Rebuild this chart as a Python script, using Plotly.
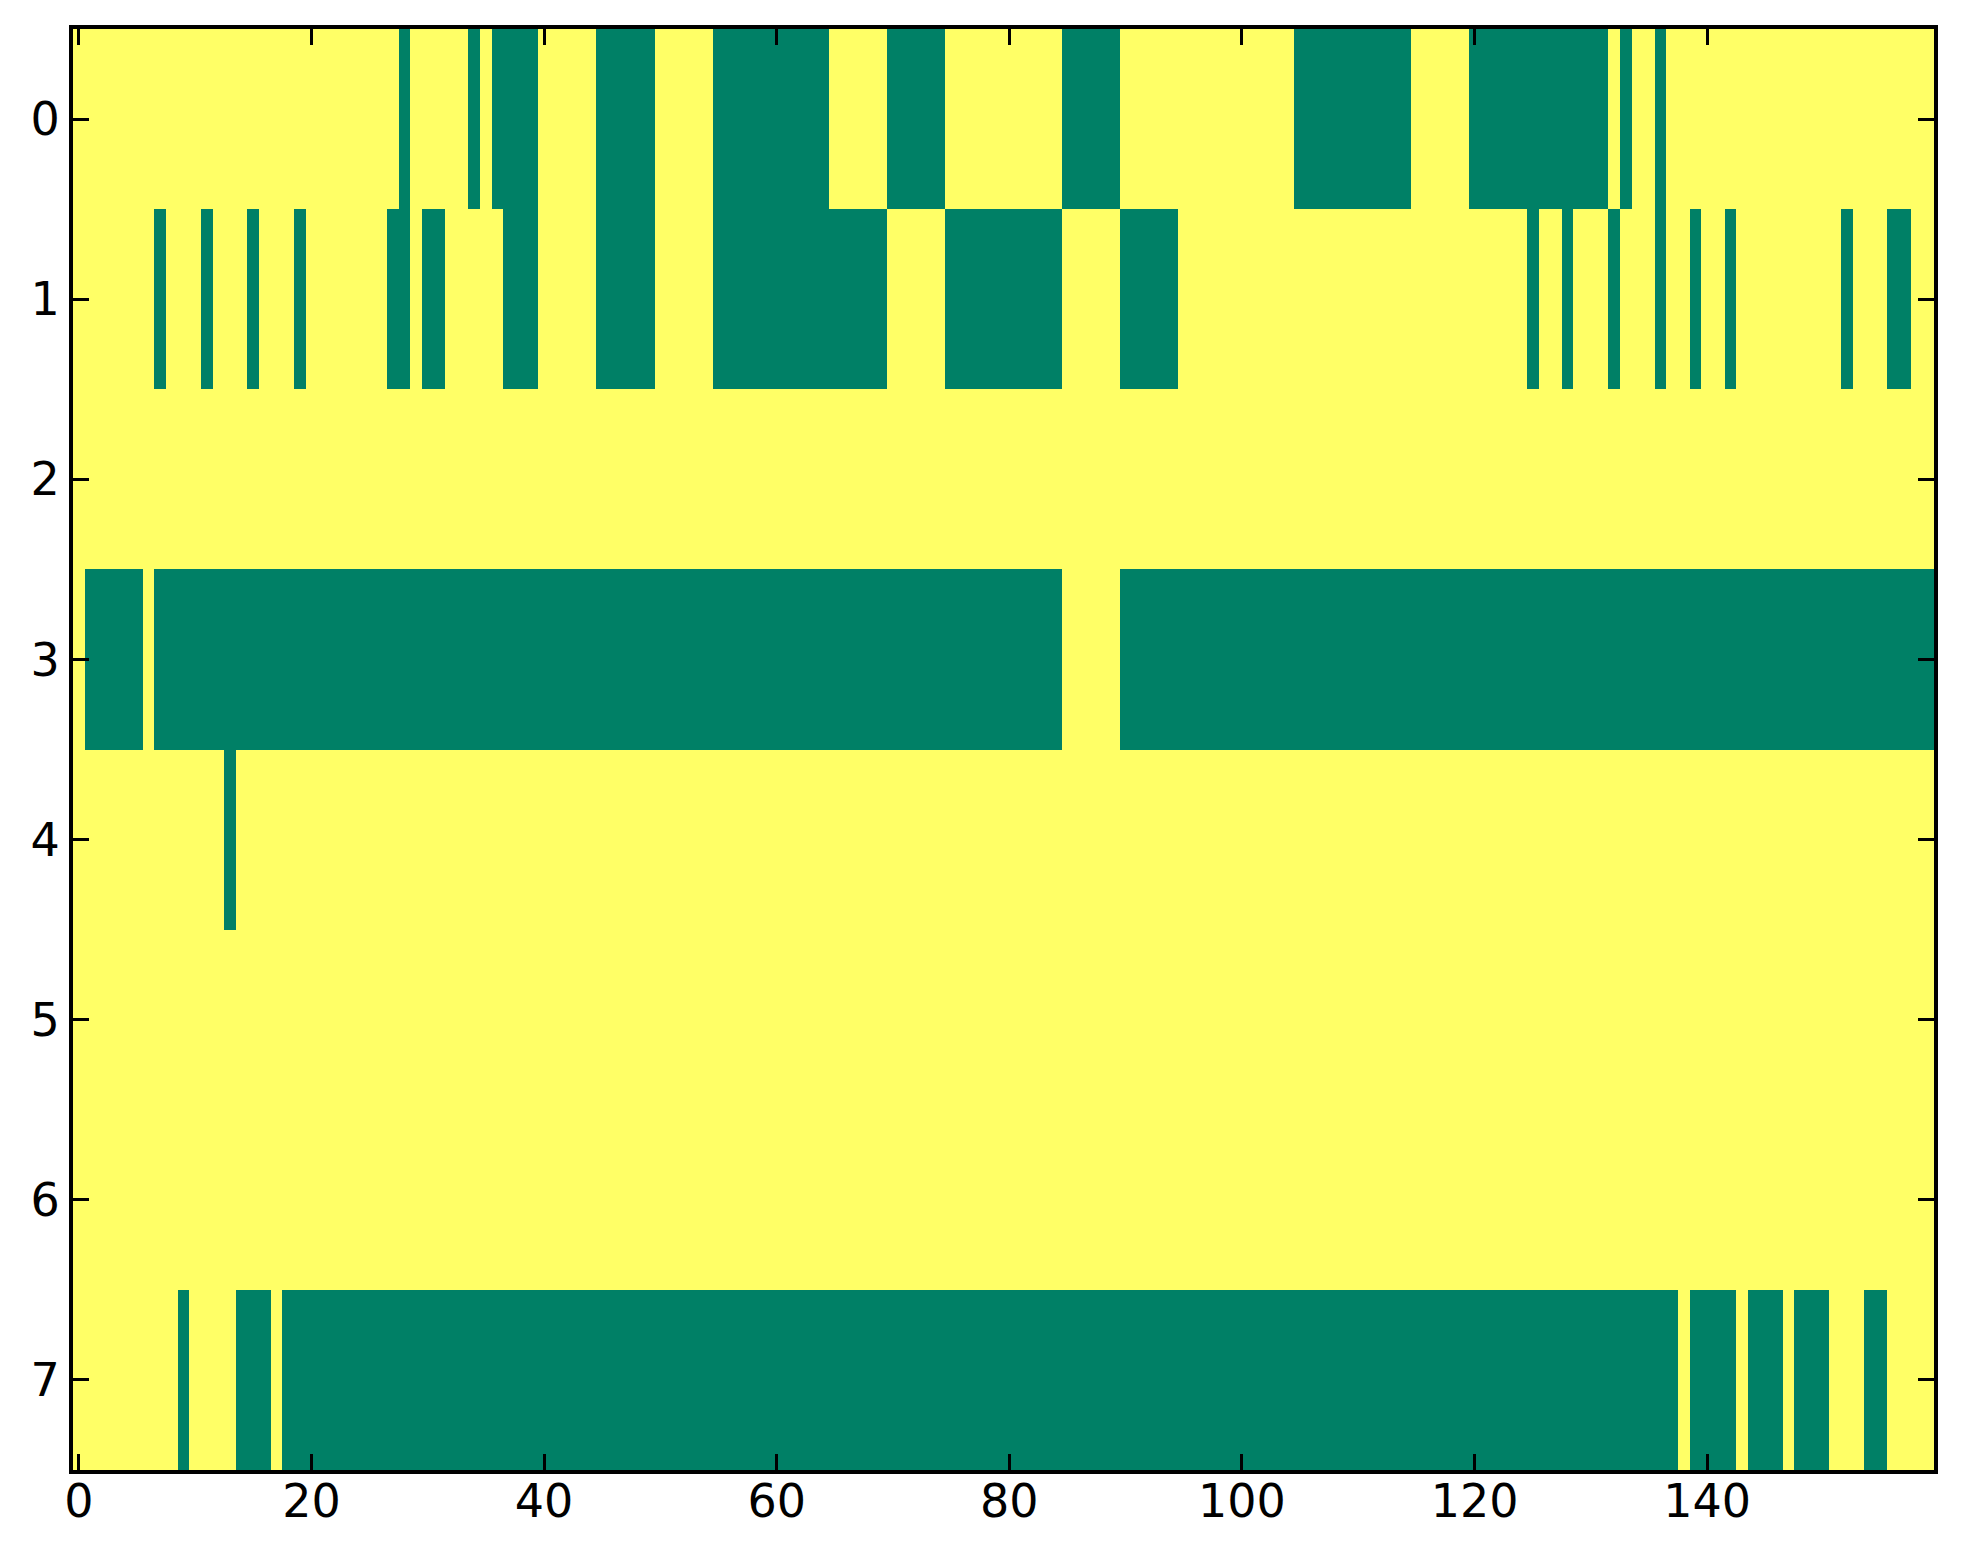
import plotly.graph_objects as go

n_cols = 160
row_labels = [0, 1, 2, 3, 4, 5, 6, 7]
x_ticks = [0, 20, 40, 60, 80, 100, 120, 140]

# green (value 0) column runs per row, inclusive; everything else is yellow (value 1)
row0_zero = [(28, 28), (34, 34), (36, 39), (45, 49), (55, 64), (70, 74), (85, 89),
             (105, 114), (120, 131), (133, 133), (136, 136)]
row1_zero = [(7, 7), (11, 11), (15, 15), (19, 19), (27, 28), (30, 31), (37, 39),
             (45, 49), (55, 69), (75, 84), (90, 94), (125, 125), (128, 128),
             (132, 132), (136, 136), (139, 139), (142, 142), (152, 152), (156, 157)]
row2_zero = []
row3_zero = [(1, 5), (7, 84), (90, 159)]
row4_zero = [(13, 13)]
row5_zero = []
row6_zero = []
row7_zero = [(9, 9), (14, 16), (18, 137), (139, 142), (144, 146), (148, 150), (154, 155)]

rows_zero = [row0_zero, row1_zero, row2_zero, row3_zero,
             row4_zero, row5_zero, row6_zero, row7_zero]

z = []
for runs in rows_zero:
    r = [1] * n_cols
    for a, b in runs:
        for c in range(a, b + 1):
            r[c] = 0
    z.append(r)

fig = go.Figure(go.Heatmap(
    z=z,
    x=list(range(n_cols)),
    y=row_labels,
    colorscale=[[0, "rgb(0,128,102)"], [1, "rgb(255,255,102)"]],
    zmin=0, zmax=1,
    showscale=False,
    hoverinfo="skip",
))

axis_common = dict(
    showline=True, linecolor="black", linewidth=4, mirror="allticks",
    ticks="inside", ticklen=16, tickwidth=2.5, tickcolor="black",
    showgrid=False, zeroline=False,
    tickfont=dict(family="DejaVu Sans", size=46, color="black"),
)

fig.update_xaxes(range=[-0.5, 159.5], tickmode="array", tickvals=x_ticks,
                 ticktext=[str(v) for v in x_ticks], ticklabelstandoff=-12,
                 **axis_common)
fig.update_yaxes(range=[7.5, -0.5], tickmode="array", tickvals=row_labels,
                 ticktext=[str(v) for v in row_labels], **axis_common)

fig.update_layout(
    width=1947, height=1548,
    margin=dict(l=65, r=21, t=21, b=86),
    paper_bgcolor="white", plot_bgcolor="white",
)

fig.write_html("out.html")
